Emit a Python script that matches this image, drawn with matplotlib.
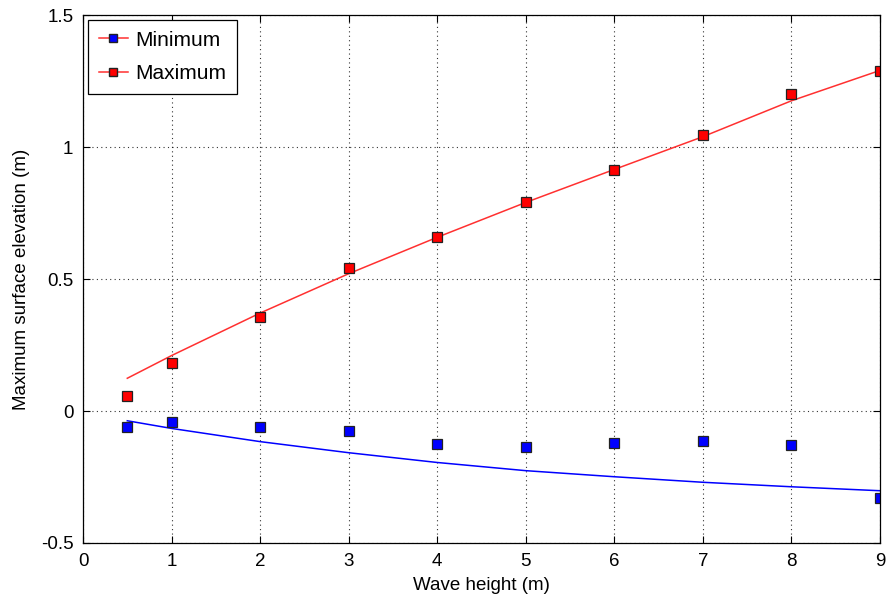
import numpy as np
import matplotlib

matplotlib.use("Agg")
import matplotlib.pyplot as plt
from matplotlib.lines import Line2D

plt.rcParams['font.family'] = ['Liberation Sans', 'DejaVu Sans']

# ========= data =========
wave_height = [0.5, 1, 2, 3, 4, 5, 6, 7, 8, 9]

min_points = [-0.059, -0.042, -0.061, -0.076, -0.126, -0.135, -0.122, -0.115, -0.130, -0.330]
max_points = [0.056, 0.182, 0.356, 0.540, 0.660, 0.793, 0.913, 1.045, 1.200, 1.288]

# fitted curves
min_fit = [-0.037, -0.066, -0.116, -0.158, -0.195, -0.226, -0.249, -0.270, -0.287, -0.302]
max_fit = [0.124, 0.210, 0.371, 0.520, 0.658, 0.790, 0.915, 1.039, 1.175, 1.290]

x_ticks = list(range(0, 10))
y_ticks = [-0.5, 0, 0.5, 1, 1.5]
y_tick_labels = ['-0.5', '0', '0.5', '1', '1.5']

fig = plt.figure(figsize=(8.87, 6.13), dpi=100)
ax = fig.add_axes([0.0936, 0.1142, 0.8984, 0.8613])

ax.plot(wave_height, min_fit, color='blue', linewidth=1.1)
ax.plot(wave_height, max_fit, color='#ff3030', linewidth=1.1)
ax.plot(wave_height, min_points, linestyle='none', marker='s', markersize=7,
        markerfacecolor='blue', markeredgecolor='#222222', markeredgewidth=0.9)
ax.plot(wave_height, max_points, linestyle='none', marker='s', markersize=7,
        markerfacecolor='red', markeredgecolor='#222222', markeredgewidth=0.9)

ax.set_xlim(0, 9)
ax.set_ylim(-0.5, 1.5)
ax.set_xticks(x_ticks)
ax.set_yticks(y_ticks)
ax.set_yticklabels(y_tick_labels)
ax.tick_params(direction='in', top=True, right=True, labelsize=13.5, length=5, pad=7)
ax.grid(True, linestyle=(0, (1, 3)), color='black', linewidth=0.8, alpha=0.8)
for s in ax.spines.values():
    s.set_linewidth(0.9)

ax.set_xlabel('Wave height (m)', fontsize=13.5, labelpad=5)
ax.set_ylabel('Maximum surface elevation (m)', fontsize=13.5, labelpad=8)

# ✅ legend like MATLAB: red line in both entries
handles = [
    Line2D([], [], color='#ff3030', linewidth=1.1, marker='s', markersize=6,
           markerfacecolor='blue', markeredgecolor='#222222'),
    Line2D([], [], color='#ff3030', linewidth=1.1, marker='s', markersize=6,
           markerfacecolor='red', markeredgecolor='#222222'),
]
leg = ax.legend(handles, ['Minimum', 'Maximum'], loc='upper left', fontsize=15,
                fancybox=False, edgecolor='black', framealpha=1,
                handlelength=1.4, handletextpad=0.35, borderaxespad=0.25,
                borderpad=0.5, labelspacing=0.7)
leg.get_frame().set_linewidth(0.9)

fig.savefig('out.png', dpi=100)
plt.close()
